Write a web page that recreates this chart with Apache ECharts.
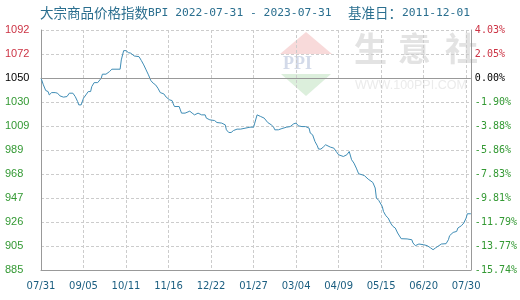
<!DOCTYPE html>
<html>
<head>
<meta charset="utf-8">
<script src="https://cdn.jsdelivr.net/npm/echarts@6/dist/echarts.min.js"></script>
<style>html,body{margin:0;padding:0;background:#fff;}#c{width:520px;height:300px;}</style>
</head>
<body>
<div id="c"></div>
<script>
// x positions in days since 2022-07-31
var xDays = [0,2,4,6,7,9,12,14,16,17,19,22,24,27,29,30,31,32,34,36,38,40,42,43,45,48,51,52,55,58,60,67,68,70,71,72,74,76,79,83,85,87,89,91,93,95,97,99,101,104,106,109,111,112,113,117,118,119,122,123,126,128,130,133,136,139,140,143,147,149,153,156,157,159,161,163,166,169,170,177,180,181,183,184,186,189,192,195,197,198,201,204,205,208,211,214,216,218,221,224,225,227,228,230,232,234,235,237,239,241,242,245,248,250,252,253,256,259,261,263,265,267,269,272,274,277,281,283,284,286,287,289,290,292,294,296,298,300,302,305,310,314,315,317,320,324,327,330,332,334,337,339,343,345,346,349,352,353,356,358,360,361,364];
var bpiValues = [1050.0,1044.1,1039.2,1038.3,1035.4,1037.4,1037.4,1036.9,1034.6,1035.4,1033.5,1034.0,1036.9,1036.9,1034.0,1034.0,1029.7,1026.8,1026.8,1032.6,1035.4,1038.3,1038.3,1042.6,1046.0,1046.0,1049.8,1053.3,1053.3,1055.5,1057.6,1057.6,1065.6,1073.6,1074.8,1073.6,1071.9,1071.4,1069.0,1068.4,1065.0,1061.3,1057.0,1052.7,1047.8,1045.5,1044.1,1041.2,1037.4,1036.3,1033.5,1031.1,1030.5,1027.7,1025.4,1025.4,1022.5,1019.7,1019.7,1020.5,1021.4,1019.7,1018.2,1019.7,1018.2,1018.2,1015.4,1013.9,1013.3,1011.6,1011.1,1009.6,1005.3,1003.0,1003.0,1004.7,1005.9,1005.9,1007.6,1007.6,1007.6,1011.1,1018.2,1018.8,1016.8,1015.4,1011.6,1009.6,1007.6,1005.3,1005.3,1006.4,1008.1,1007.6,1008.1,1010.5,1011.1,1008.7,1008.1,1008.1,1008.7,1006.8,1002.5,1001.0,995.2,991.5,988.7,988.7,990.4,992.4,990.9,990.4,989.5,986.6,983.8,982.3,982.3,983.8,986.6,979.5,976.6,972.3,967.4,966.5,965.7,962.8,959.9,955.1,946.5,944.4,943.5,939.2,934.9,931.2,929.2,924.9,922.0,920.6,916.3,911.4,911.2,910.5,907.7,905.4,906.8,906.2,905.4,903.4,901.9,903.4,905.4,906.8,907.1,910.5,914.0,916.8,917.7,920.6,922.6,924.9,929.2,932.9,932.9];
var xTickLabels = ['07/31','09/05','10/11','11/16','12/22','01/27','03/04','04/09','05/15','06/20','07/30'];
var yLeftLabels = ['885','905','926','947','968','989','1009','1030','1050','1072','1092'];
var yRightLabels = ['-15.74%','-13.77%','-11.79%','-9.81%','-7.83%','-5.86%','-3.88%','-1.90%','0.00%','2.05%','4.03%'];
var baseValue = 1050;
var yStep = 20.7;

var seriesData = xDays.map(function (d, i) { return [d, bpiValues[i]]; });
var yMin = baseValue - 8 * yStep, yMax = baseValue + 2 * yStep;

function styleKey(i) { return i > 8 ? 'r' : (i === 8 ? 'k' : 'g'); }
function mkRich(font, size) {
  return {
    r: {color: '#cc3344', fontFamily: font, fontSize: size},
    k: {color: '#000000', fontFamily: font, fontSize: size},
    g: {color: '#339933', fontFamily: font, fontSize: size}
  };
}
var titleRich = {
  c: {fontFamily: 'Noto Sans CJK SC', fontSize: 13.5, color: '#2b6f8f', fontWeight: 'normal'},
  a: {fontFamily: 'DejaVu Sans Mono', fontSize: 11.3, color: '#2b6f8f', fontWeight: 'normal'}
};

var chart = echarts.init(document.getElementById('c'), null, {renderer: 'canvas'});
chart.setOption({
  animation: false,
  backgroundColor: '#ffffff',
  title: [{
    text: '{c|大宗商品价格指数}{a|BPI 2022-07-31 - 2023-07-31}',
    left: 40, top: 6, padding: 0,
    textStyle: {fontWeight: 'normal', rich: titleRich}
  }, {
    text: '{c|基准日：}{a|2011-12-01}',
    left: 348, top: 6, padding: 0,
    textStyle: {fontWeight: 'normal', rich: titleRich}
  }],
  graphic: [
    {type: 'polygon', z: -5, silent: true, shape: {points: [[306,32],[332,54],[280,54]]}, style: {fill: '#f8dada'}},
    {type: 'polygon', z: -5, silent: true, shape: {points: [[281,74],[331,74],[306,96]]}, style: {fill: '#dcefdc'}},
    {type: 'text', z: -5, silent: true, left: 283, top: 55, style: {text: 'PPI', font: 'bold 18px "Liberation Serif"', fill: '#d3dae9'}},
    {type: 'text', z: -5, silent: true, left: 354, top: 32, style: {text: '生', font: 'bold 33px "Noto Sans CJK SC"', fill: '#e3e3e3'}},
    {type: 'text', z: -5, silent: true, left: 398, top: 32, style: {text: '意', font: 'bold 33px "Noto Sans CJK SC"', fill: '#e3e3e3'}},
    {type: 'text', z: -5, silent: true, left: 445, top: 32, style: {text: '社', font: 'bold 33px "Noto Sans CJK SC"', fill: '#e3e3e3'}},
    {type: 'text', z: -5, silent: true, left: 355, top: 79, style: {text: 'WWW.100PPI.COM', font: '12.5px "Liberation Sans"', fill: '#ebebeb'}}
  ],
  grid: {left: 41, right: 49, top: 30, bottom: 30, containLabel: false},
  xAxis: {
    type: 'value', min: 0, max: 364, interval: 36,
    axisLine: {show: true, lineStyle: {color: '#999999', width: 1}},
    axisTick: {show: false},
    splitLine: {show: true, lineStyle: {color: '#cccccc', type: [3, 2], width: 1}},
    axisLabel: {
      margin: 11, color: '#1b5e80', fontFamily: 'DejaVu Sans', fontSize: 10,
      showMaxLabel: false,
      formatter: function (v) {
        var i = Math.round(v / 36);
        if (Math.abs(v - i * 36) < 1e-6 && i < xTickLabels.length) return xTickLabels[i];
        return '';
      }
    }
  },
  yAxis: [{
    type: 'value', min: yMin, max: yMax, interval: yStep, position: 'left',
    axisLine: {show: true, lineStyle: {color: '#999999', width: 1}},
    axisTick: {show: false},
    splitLine: {show: true, lineStyle: {color: '#cccccc', type: [3, 2], width: 1}},
    axisLabel: {
      margin: 36, align: 'left',
      formatter: function (v, i) { return '{' + styleKey(i) + '|' + yLeftLabels[i] + '}'; },
      rich: mkRich('Liberation Sans', 11)
    }
  }, {
    type: 'value', min: yMin, max: yMax, interval: yStep, position: 'right',
    axisLine: {show: true, lineStyle: {color: '#999999', width: 1}},
    axisTick: {show: false},
    splitLine: {show: false},
    axisLabel: {
      margin: 4, align: 'left',
      formatter: function (v, i) { return '{' + styleKey(i) + '|' + yRightLabels[i] + '}'; },
      rich: mkRich('DejaVu Sans Mono', 10)
    }
  }],
  series: [{
    type: 'line',
    data: seriesData,
    yAxisIndex: 0,
    showSymbol: false,
    symbol: 'none',
    lineStyle: {color: '#3f8db6', width: 1},
    markLine: {
      silent: true, symbol: 'none', label: {show: false},
      lineStyle: {color: '#999999', type: 'solid', width: 1},
      data: [{yAxis: baseValue}]
    }
  }]
});
</script>
</body>
</html>
